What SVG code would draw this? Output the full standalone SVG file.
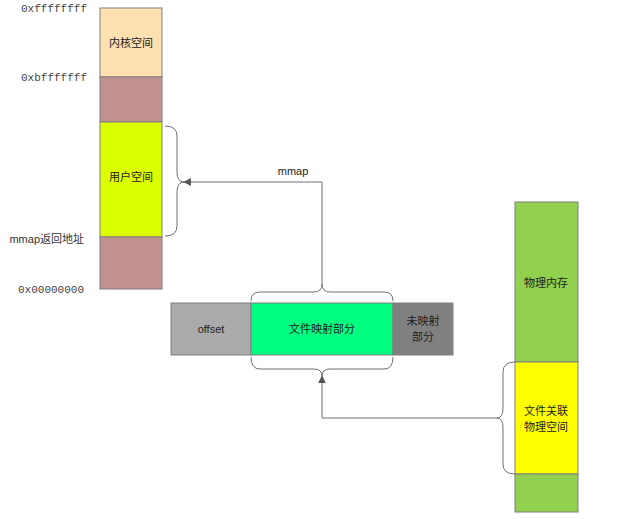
<svg xmlns="http://www.w3.org/2000/svg" width="624" height="519" viewBox="0 0 624 519">
<style>
.box{stroke:#7f7f7f;stroke-width:1}
.t{font-family:"Liberation Sans","Noto Sans CJK SC",sans-serif;font-size:11px;fill:#222;text-anchor:middle}
.m{font-family:"Liberation Mono",monospace;font-size:11px;fill:#444;text-anchor:end}
.l{font-family:"Liberation Sans","Noto Sans CJK SC",sans-serif;font-size:11px;fill:#333;text-anchor:end}
.c{fill:none;stroke:#707070;stroke-width:1}
</style>
<defs>
<marker id="ah" viewBox="0 0 10 10" refX="9" refY="5" markerWidth="8" markerHeight="8" markerUnits="userSpaceOnUse" orient="auto">
<path d="M0,0 L10,5 L0,10 z" fill="#555"/>
</marker>
</defs>
<rect width="624" height="519" fill="#fff"/>
<g id="labels">
<text class="m" x="87" y="12">0xffffffff</text>
<text class="m" x="87" y="81">0xbfffffff</text>
<text class="l" x="84" y="243">mmap返回地址</text>
<text class="m" x="84" y="293">0x00000000</text>
</g>
<g id="kernel"><rect class="box" x="100" y="8" width="62" height="69" fill="#ffe0b0"/><text class="t" x="131" y="47">内核空间</text></g>
<g id="gap1"><rect class="box" x="100" y="77" width="62" height="45" fill="#c29191"/></g>
<g id="user"><rect class="box" x="100" y="122" width="62" height="115" fill="#dcff00"/><text class="t" x="131" y="181">用户空间</text></g>
<g id="gap2"><rect class="box" x="100" y="237" width="62" height="52" fill="#c29191"/></g>
<g id="offset"><rect class="box" x="171" y="303" width="80" height="52" fill="#aaaaaa"/><text class="t" x="211" y="333">offset</text></g>
<g id="mapped"><rect class="box" x="251" y="303" width="142" height="52" fill="#00ff80"/><text class="t" x="322" y="333">文件映射部分</text></g>
<g id="unmapped"><rect class="box" x="393" y="303" width="60" height="52" fill="#808080"/><text class="t" x="423" y="325">未映射</text><text class="t" x="423" y="341">部分</text></g>
<g id="phys"><rect class="box" x="515" y="202" width="63" height="160" fill="#92d050"/><text class="t" x="546" y="287">物理内存</text></g>
<g id="filephys"><rect class="box" x="515" y="362" width="63" height="112" fill="#ffff00"/><text class="t" x="546" y="415">文件关联</text><text class="t" x="546" y="431">物理空间</text></g>
<g id="physbottom"><rect class="box" x="515" y="474" width="63" height="38" fill="#92d050"/></g>
<g id="connectors">
<path class="c" d="M165,126 Q177,126 177,136 L177,172 Q177,182 184,182 Q177,182 177,192 L177,226 Q177,236 165,236"/>
<path class="c" d="M251,301 Q251,292 260,292 L314,292 Q322,292 322,284 Q322,292 330,292 L384,292 Q393,292 393,301"/>
<path class="c" d="M251,357 Q251,369 260,369 L314,369 Q322,369 322,376 Q322,369 330,369 L384,369 Q393,369 393,357"/>
<path class="c" d="M515,362 Q503,362 503,372 L503,408 Q503,418 497,418 Q503,418 503,428 L503,464 Q503,474 515,474"/>
<path class="c" d="M322,284 L322,182 L184,182" marker-end="url(#ah)"/>
<path class="c" d="M497,418 L322,418 L322,376" marker-end="url(#ah)"/>
<text class="t" x="293" y="175">mmap</text>
</g>
</svg>
